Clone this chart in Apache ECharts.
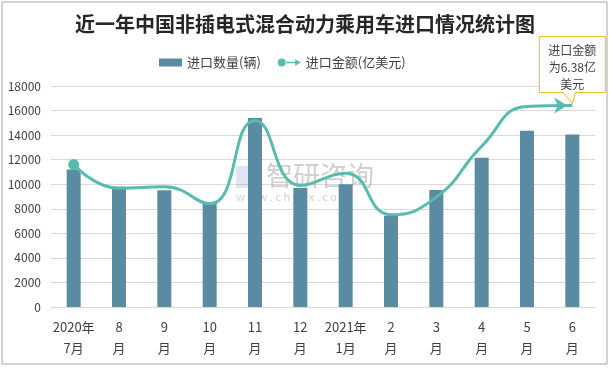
<!DOCTYPE html>
<html><head><meta charset="utf-8">
<script src="https://cdn.jsdelivr.net/npm/echarts@6/dist/echarts.min.js"></script>
<style>html,body{margin:0;padding:0;background:#fff}#c{width:610px;height:368px}</style>
</head><body><div id="c"></div>
<script>
const categories = ['2020年\n7月','8\n月','9\n月','10\n月','11\n月','12\n月','2021年\n1月','2\n月','3\n月','4\n月','5\n月','6\n月'];
const importQty = [11200, 9800, 9500, 8500, 15400, 9700, 10000, 7430, 9520, 12150, 14350, 14050];
const importAmt = [4.51, 3.76, 3.81, 3.27, 5.91, 3.85, 4.24, 2.92, 3.48, 5.09, 6.35, 6.38];
const yTicks = [0, 2000, 4000, 6000, 8000, 10000, 12000, 14000, 16000, 18000];

const chart = echarts.init(document.getElementById('c'));
const font = '"Noto Sans CJK SC", sans-serif';
const amtData = importAmt.map((v, i) => {
  if (i === 0) return {value: v, symbol: 'circle', symbolSize: 11};
  if (i === importAmt.length - 1) return {value: v, symbol: 'arrow', symbolSize: [12, 13], symbolRotate: -90, symbolOffset: [-5, 0]};
  return {value: v, symbol: 'none'};
});
chart.setOption({
  animation: false,
  textStyle: {fontFamily: font},
  title: {text: '近一年中国非插电式混合动力乘用车进口情况统计图', left: 'center', top: 9,
    textStyle: {fontSize: 20, fontWeight: 'bold', color: '#262626', fontFamily: font}},
  legend: {top: 51, left: 154, itemGap: 17, textStyle: {fontSize: 13, color: '#404040'},
    data: [
      {name: '进口数量(辆)', icon: 'rect', itemStyle: {color: '#5A8BA2'}},
      {name: '进口金额(亿美元)', icon: 'path://M0,5 a5,5 0 1,0 10,0 a5,5 0 1,0 -10,0 Z M9,4 L22,4 L22,1 L29,5 L22,9 L22,6 L9,6 Z', itemStyle: {color: '#57BBAE'}}
    ], itemWidth: 23, itemHeight: 8},
  grid: {left: 51, right: 15, top: 86, bottom: 61},
  xAxis: {type: 'category', data: categories,
    axisLine: {lineStyle: {color: '#D9D9D9'}}, axisTick: {show: false},
    axisLabel: {interval: 0, fontSize: 13, color: '#404040', lineHeight: 21, margin: 10}},
  yAxis: [
    {type: 'value', min: 0, max: 18000, interval: 2000,
      axisLine: {show: false}, axisTick: {show: false},
      splitLine: {lineStyle: {color: '#D9D9D9'}},
      axisLabel: {fontSize: 12, color: '#404040', margin: 10,
        formatter: v => yTicks.includes(v) ? String(v) : ''}},
    {type: 'value', min: 0, max: 7, show: false, splitLine: {show: false}}
  ],
  series: [
    {name: '进口数量(辆)', type: 'bar', data: importQty, barWidth: 14, itemStyle: {color: '#5A8BA2'}, z: 2},
    {name: '进口金额(亿美元)', type: 'line', yAxisIndex: 1, data: amtData, smooth: 0.5,
      symbol: 'none', showSymbol: true, lineStyle: {color: '#57BBAE', width: 3},
      itemStyle: {color: '#57BBAE'}, z: 3}
  ]
});

const p = chart.convertToPixel({seriesIndex: 1}, [importAmt.length - 1, importAmt[importAmt.length - 1]]);
const bx = p[0] - 33, by = p[1] - 69, bw = 66, bh = 56;
chart.setOption({
  graphic: [
    {type: 'rect', shape: {x: 2, y: 2, width: 605, height: 362}, style: {fill: 'none', stroke: '#A6A6A6', lineWidth: 1}, silent: true, z: -1},
    {type: 'rect', shape: {x: 236, y: 166, width: 24, height: 22}, style: {fill: 'rgba(140,160,205,0.28)'}, z: 1},
    {type: 'text', x: 266, y: 162, style: {text: '智研咨询', fill: 'rgba(140,140,140,0.42)', font: '27px ' + font}, z: 1},
    {type: 'text', x: 236, y: 191, style: {text: 'w w w . c h y x x . c o m', fill: 'rgba(140,140,140,0.42)', font: '11px ' + font}, z: 1},
    {type: 'polygon', shape: {points: [[bx, by], [bx + bw, by], [bx + bw, by + bh], [p[0] + 3, by + bh], [p[0], p[1] - 2], [p[0] - 9, by + bh], [bx, by + bh]]},
      style: {fill: '#fff', stroke: '#F5BA14', lineWidth: 1}, z: 10},
    {type: 'text', x: bx + bw / 2, y: by + 5, style: {text: '进口金额\n为6.38亿\n美元', fill: '#404040', font: '12px ' + font, align: 'center', lineHeight: 17}, z: 11}
  ]
});
</script></body></html>
